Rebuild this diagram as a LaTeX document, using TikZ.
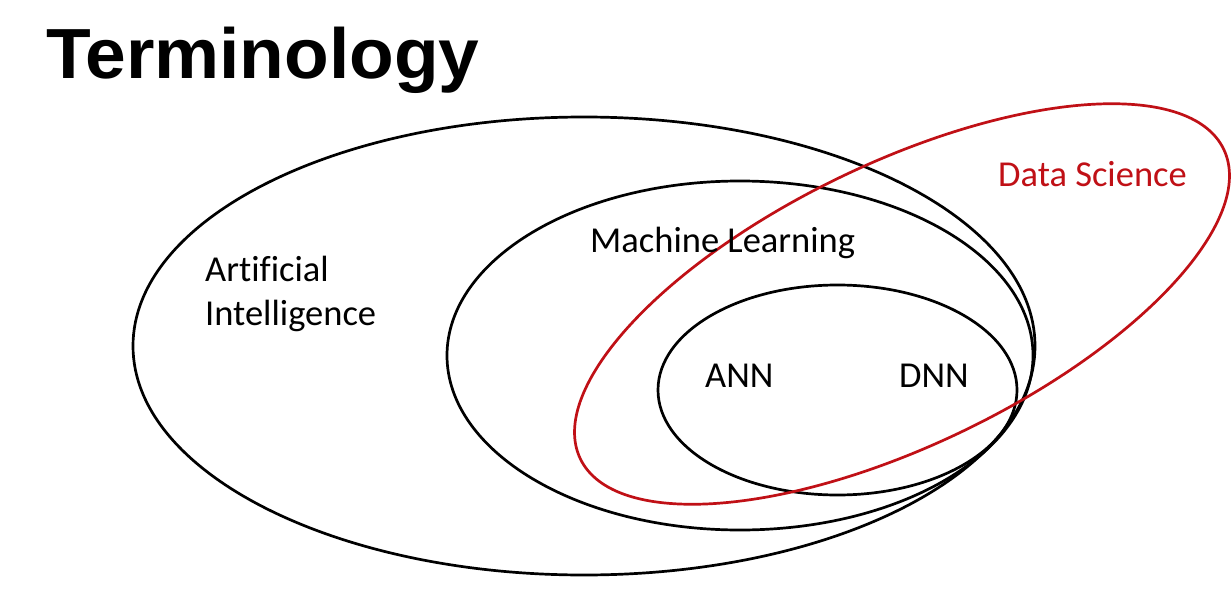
\documentclass[tikz,border=0pt]{standalone}
\usepackage{fontspec}
\usetikzlibrary{shapes.geometric}
\setmainfont{Carlito}[Ligatures=NoCommon]
\newfontfamily\titlefont{Liberation Sans}
\definecolor{dsred}{RGB}{192,16,22}
\begin{document}
\begin{tikzpicture}[x=1pt,y=-1pt,
  blackring/.style={ellipse, draw=black, line width=2.7pt, inner sep=0pt, outer sep=0pt},
  redring/.style={ellipse, draw=dsred, line width=2.7pt, inner sep=0pt, outer sep=0pt},
  lbl/.style={anchor=base west, inner sep=0pt, font=\fontsize{36.5}{44}\selectfont},
  titletext/.style={anchor=base west, inner sep=0pt, font=\titlefont\bfseries\fontsize{71}{80}\selectfont}
]
\fill[white] (0,0) rectangle (1231,591);
\useasboundingbox (0,0) rectangle (1231,591);
\node[titletext] (title) at (46,79) {\scalebox{1.03}[1]{Terminology}};
\node[blackring, minimum width=902pt, minimum height=458pt] (ai) at (584,346) {};
\node[blackring, minimum width=586pt, minimum height=349pt] (ml) at (740,355.5) {};
\node[blackring, minimum width=359pt, minimum height=210pt] (nn) at (837.5,390) {};
\node[redring, rotate=25.7, minimum width=714pt, minimum height=282pt] (ds) at (902,304) {};
\node[lbl] (ailabel1) at (205,281) {Artificial};
\node[lbl] (ailabel2) at (205,325) {Intelligence};
\node[lbl] (mllabel) at (590,252) {Machine Learning};
\node[lbl, text=dsred] (dslabel) at (998,186) {Data Science};
\node[lbl] (annlabel) at (705,387) {ANN};
\node[lbl] (dnnlabel) at (899,387) {DNN};
\end{tikzpicture}
\end{document}
